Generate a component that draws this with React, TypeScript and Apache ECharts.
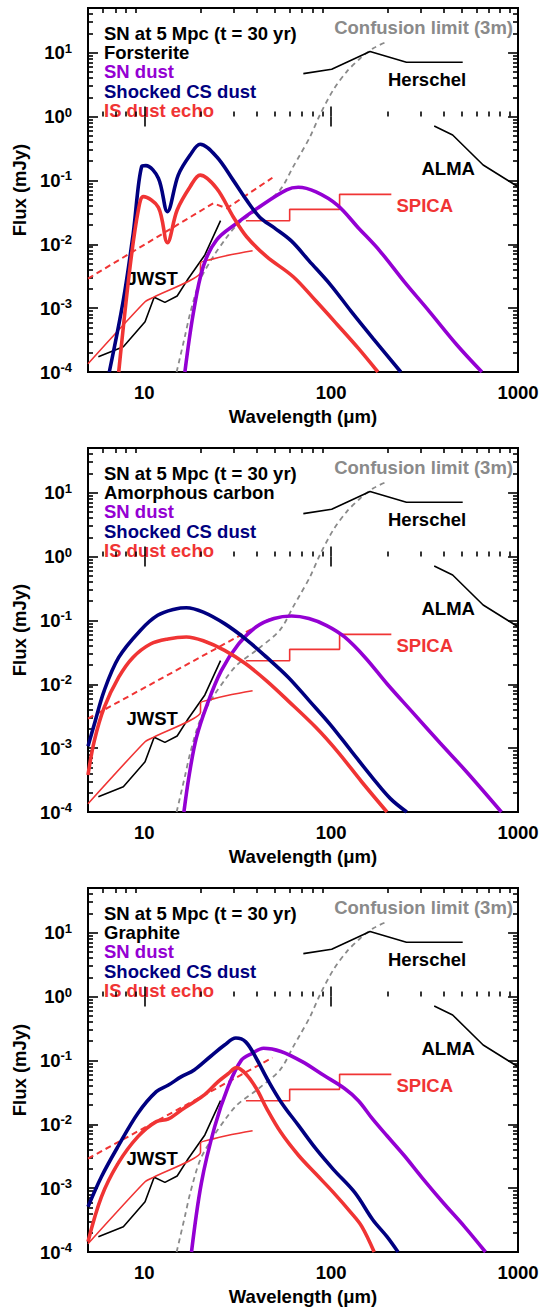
import React, { useEffect, useRef } from 'react';
import * as echarts from 'echarts';

type Pt = [number, number];

const X_MIN = 5;
const X_MAX = 1000;
const Y_MIN = 1e-4;
const Y_MAX = 50;

const FONT = '"Liberation Sans", Arial, Helvetica, sans-serif';
const NAVY = '#000080';
const PURPLE = '#9400d3';
const RED = '#f03434';
const GREY = '#8a8a8a';

// Detector sensitivities / confusion limit, shared by all three panels (mJy vs micron)
const confusionLimit: Pt[] = [
  [14.9, 1e-4], [16.5, 3.6e-4], [17.6, 8.3e-4], [19.9, 2.75e-3], [23.4, 6.4e-3],
  [27, 1.17e-2], [31.3, 2.0e-2], [40, 3.44e-2], [53.3, 7.1e-2], [62.7, 0.164],
  [68.1, 0.25], [77.1, 0.48], [87.1, 1.06], [102.6, 2.6], [121, 5.0],
  [142.7, 8.1], [168, 11.7], [198, 14.8],
];
const herschel: Pt[] = [[71, 4.7], [100.7, 5.5], [161.5, 10.4], [253, 7.06], [506, 7.06]];
const alma: Pt[] = [[356, 0.71], [447, 0.514], [651, 0.174], [1000, 0.0796]];
const jwst: Pt[] = [
  [5.68, 1.74e-4], [7.73, 2.49e-4], [10.1, 6.1e-4], [11.3, 1.48e-3], [12.9, 1.23e-3],
  [15.0, 1.55e-3], [17.0, 2.75e-3], [21.1, 6.8e-3], [25.6, 2.34e-2],
];
const spicaMir: Pt[] = [
  [5, 1.35e-4], [10.1, 1.26e-3], [11.3, 1.5e-3], [20, 3.6e-3], [20, 5.1e-3],
  [22.6, 5.75e-3], [29.4, 6.9e-3], [38, 7.9e-3],
];
const spicaFir: Pt[] = [
  [35, 0.0233], [60, 0.0233], [60, 0.0352], [111, 0.0352], [111, 0.0605], [210, 0.0605],
];

// Forsterite
const snForsterite: Pt[] = [
  [16.5, 1e-4], [18.3, 8.3e-4], [20.7, 4.5e-3], [24.4, 1.17e-2], [31.3, 2.14e-2],
  [41.6, 3.9e-2], [57.8, 7.1e-2], [66.7, 7.8e-2], [83, 6.6e-2], [108, 4.1e-2],
  [140, 1.8e-2], [182, 7.9e-3], [246, 2.6e-3], [335, 8.9e-4], [474, 2.6e-4], [641, 1e-4],
];
const csForsterite: Pt[] = [
  [6.5, 1e-4], [7.73, 1.34e-3], [8.73, 1.48e-2], [9.68, 0.164], [10.2, 0.17],
  [11.9, 0.108], [13.3, 0.0324], [15.2, 0.121], [17.6, 0.249], [19.9, 0.367],
  [24.4, 0.235], [29.9, 0.101], [35.3, 0.049], [41.6, 0.0263], [49.5, 0.0182],
  [61.4, 0.0112], [76.2, 5.5e-3], [99, 2.34e-3], [128, 8.9e-4], [167, 3.4e-4], [236, 1e-4],
];
const echoForsterite: Pt[] = [
  [7.3, 1e-4], [8.4, 4.5e-3], [9.3, 0.0344], [9.9, 0.0556], [11.9, 0.0379],
  [13.3, 0.0106], [15.0, 0.0344], [17.6, 0.0796], [19.9, 0.121], [24.4, 0.0752],
  [29.9, 0.027], [35.3, 0.0131], [45.2, 6.4e-3], [62.7, 3.1e-3], [83, 1.29e-3],
  [108, 5.5e-4], [140, 2.34e-4], [178, 1e-4],
];
const dashForsterite: Pt[] = [[5, 2.9e-3], [23.4, 0.0438], [27.6, 0.0365], [48.5, 0.11]];

// Amorphous carbon
const snCarbon: Pt[] = [
  [16.3, 1e-4], [17.4, 3.8e-4], [19, 1.45e-3], [21.7, 4.8e-3], [25.8, 0.0162],
  [32, 0.0427], [39.8, 0.0794], [49.5, 0.107], [61.4, 0.117], [76, 0.107],
  [94.7, 0.083], [118, 0.055], [152, 0.0263], [199, 0.0102], [270, 3.76e-3],
  [383, 1.2e-3], [530, 4.27e-4], [815, 1e-4],
];
const csCarbon: Pt[] = [
  [5, 1.07e-3], [5.4, 2.34e-3], [6.1, 7.9e-3], [7.3, 0.0263], [9.5, 0.069],
  [11.8, 0.12], [14.7, 0.151], [16.8, 0.158], [20.7, 0.135], [26.9, 0.089],
  [34.9, 0.051], [45.3, 0.0263], [58.9, 0.0129], [76.5, 5.5e-3], [99, 2.34e-3],
  [128.5, 8.9e-4], [167, 3.4e-4], [207.6, 1.62e-4], [254, 1e-4],
];
const echoCarbon: Pt[] = [
  [5, 3.8e-4], [5.4, 1.29e-3], [6.1, 4.3e-3], [7.3, 0.0129], [8.7, 0.0263],
  [10.8, 0.0427], [13.4, 0.0513], [16.8, 0.055], [20.7, 0.0479], [26.9, 0.0339],
  [34.9, 0.0209], [45.3, 0.0112], [58.9, 5.5e-3], [83, 2.1e-3], [108, 8.9e-4],
  [146, 2.95e-4], [199, 1e-4],
];
const dashCarbon: Pt[] = [[5, 2.9e-3], [48.5, 0.11]];

// Graphite
const snGraphite: Pt[] = [
  [17.9, 1e-4], [20.2, 1.19e-3], [23.8, 9.1e-3], [28.1, 0.0387], [33.1, 0.101],
  [37.8, 0.129], [43.5, 0.155], [53.9, 0.138], [70, 0.0955], [90.8, 0.0589],
  [118, 0.0363], [140, 0.0234], [167, 0.012], [199, 6.6e-3], [246, 3.24e-3],
  [307, 1.45e-3], [398, 5.9e-4], [517, 2.5e-4], [670, 1e-4],
];
const csGraphite: Pt[] = [
  [5, 5.1e-4], [5.9, 1.51e-3], [7.24, 4.5e-3], [9.25, 0.0149], [11.6, 0.0324],
  [13.4, 0.0407], [15.8, 0.0556], [18.5, 0.0708], [22.6, 0.115], [26.9, 0.174],
  [30.9, 0.224], [34.9, 0.195], [39.8, 0.107], [45.3, 0.0525], [53.9, 0.0224],
  [67, 9.5e-3], [83, 4.1e-3], [103, 1.95e-3], [134, 8.5e-4], [167, 3.2e-4],
  [199, 1.74e-4], [228, 1e-4],
];
const echoGraphite: Pt[] = [
  [5, 1.45e-4], [5.9, 7.3e-4], [7.24, 2.44e-3], [9.25, 6.4e-3], [11.6, 0.011],
  [13.4, 0.012], [15.8, 0.0167], [20.7, 0.028], [24.7, 0.0457], [28.1, 0.0617],
  [31.2, 0.077], [34.9, 0.0617], [39.8, 0.0363], [45.3, 0.0174], [53.9, 7.4e-3],
  [67, 3.24e-3], [83, 1.66e-3], [103, 8.5e-4], [128, 4.1e-4], [146, 2.5e-4], [170, 1e-4],
];
const dashGraphite: Pt[] = [[5, 2.9e-3], [48.5, 0.11]];

const panels = [
  { material: 'Forsterite', sn: snForsterite, cs: csForsterite, echo: echoForsterite, dash: dashForsterite },
  { material: 'Amorphous carbon', sn: snCarbon, cs: csCarbon, echo: echoCarbon, dash: dashCarbon },
  { material: 'Graphite', sn: snGraphite, cs: csGraphite, echo: echoGraphite, dash: dashGraphite },
];

// Tick positions (major decades and 2..9 minors)
const xMajor = [10, 100, 1000];
const xMinor = [6, 7, 8, 9, 20, 30, 40, 50, 60, 70, 80, 90, 200, 300, 400, 500, 600, 700, 800, 900];
const yMajor = [1e-4, 1e-3, 1e-2, 1e-1, 1, 10];
const yMinor: number[] = [];
for (let e = -4; e <= 1; e++) {
  for (let k = 2; k <= 9; k++) {
    const v = k * Math.pow(10, e);
    if (v <= Y_MAX) yMinor.push(v);
  }
}

const GRID_LEFT = 88;
const GRID_WIDTH = 430;
const GRID_HEIGHT = 364;
const GRID_TOPS = [8, 448, 888];
const MAJOR_LEN = 10;
const MINOR_LEN = 5;

const isDecade = (v: number) => {
  const l = Math.log10(v);
  return Math.abs(l - Math.round(l)) < 1e-6;
};

// Tick-carrier axis: a linear axis spanning log10 of the data range, whose
// only visible part is a set of inward ticks at log10 of the given values.
function tickAxis(dim: 'x' | 'y', gridIndex: number, position: string, values: number[], len: number) {
  const lo = dim === 'x' ? X_MIN : Y_MIN;
  const hi = dim === 'x' ? X_MAX : Y_MAX;
  return {
    type: 'value',
    gridIndex,
    position,
    min: Math.log10(lo),
    max: Math.log10(hi),
    silent: true,
    axisLine: { show: false },
    axisLabel: { show: false },
    splitLine: { show: false },
    axisTick: {
      show: true,
      inside: true,
      length: len,
      customValues: values.map((v) => Math.log10(v)),
      lineStyle: { color: '#000', width: 1.6 },
    },
  };
}

function buildOption(withTickAxes: boolean) {
  const grids: any[] = [];
  const xAxes: any[] = [];
  const yAxes: any[] = [];
  const extraX: any[] = [];
  const extraY: any[] = [];
  const series: any[] = [];
  const graphics: any[] = [];

  const labelStyle = { fontSize: 18.5, fontWeight: 'bold', fontFamily: FONT, color: '#000' };

  const text = (t: string, x: number, y: number, fill: string, align = 'left') => ({
    type: 'text',
    x,
    y,
    style: {
      text: t,
      fill,
      fontSize: 18.5,
      fontWeight: 'bold',
      fontFamily: FONT,
      align,
      verticalAlign: 'middle',
    },
  });

  panels.forEach((p, i) => {
    const top = GRID_TOPS[i];
    grids.push({
      left: GRID_LEFT,
      top,
      width: GRID_WIDTH,
      height: GRID_HEIGHT,
      show: true,
      borderColor: '#000',
      borderWidth: 2,
      backgroundColor: 'transparent',
    });
    xAxes.push({
      type: 'log',
      gridIndex: i,
      position: 'bottom',
      min: X_MIN,
      max: X_MAX,
      name: 'Wavelength (μm)',
      nameLocation: 'middle',
      nameGap: 35,
      nameTextStyle: { ...labelStyle },
      axisLine: { show: false },
      axisTick: { show: false },
      splitLine: { show: false },
      axisLabel: {
        ...labelStyle,
        margin: 11,
        showMinLabel: false,
        formatter: (v: number) => (isDecade(v) ? String(Math.round(v)) : ''),
      },
    });
    yAxes.push({
      type: 'log',
      gridIndex: i,
      position: 'left',
      min: Y_MIN,
      max: Y_MAX,
      name: 'Flux (mJy)',
      nameLocation: 'middle',
      nameGap: 48,
      nameTextStyle: { ...labelStyle },
      axisLine: { show: false },
      axisTick: { show: false },
      splitLine: { show: false },
      axisLabel: {
        margin: 16,
        color: '#000',
        fontFamily: FONT,
        fontWeight: 'bold',
        formatter: (v: number) => {
          if (!isDecade(v)) return '';
          return `{b|10}{e|${Math.round(Math.log10(v))}}`;
        },
        rich: {
          b: { fontSize: 18.5, fontWeight: 'bold', fontFamily: FONT, color: '#000' },
          e: { fontSize: 13, fontWeight: 'bold', fontFamily: FONT, color: '#000', padding: [0, 0, 9, 0] },
        },
      },
    });

    if (withTickAxes) {
      extraX.push(tickAxis('x', i, 'bottom', xMajor, MAJOR_LEN));
      extraX.push(tickAxis('x', i, 'bottom', xMinor, MINOR_LEN));
      extraX.push(tickAxis('x', i, 'top', xMajor, MAJOR_LEN));
      extraX.push(tickAxis('x', i, 'top', xMinor, MINOR_LEN));
      extraY.push(tickAxis('y', i, 'left', yMajor, MAJOR_LEN));
      extraY.push(tickAxis('y', i, 'left', yMinor, MINOR_LEN));
      extraY.push(tickAxis('y', i, 'right', yMajor, MAJOR_LEN));
      extraY.push(tickAxis('y', i, 'right', yMinor, MINOR_LEN));
    }

    const base = { xAxisIndex: i, yAxisIndex: i, showSymbol: false, z: 2 };

    series.push({ ...base, type: 'line', name: 'Confusion limit', data: confusionLimit, smooth: 0.3,
      lineStyle: { color: GREY, width: 1.8, type: [5, 4] } });
    series.push({ ...base, type: 'line', name: 'Herschel', data: herschel, lineStyle: { color: '#000', width: 1.6 } });
    series.push({ ...base, type: 'line', name: 'ALMA', data: alma, lineStyle: { color: '#000', width: 1.6 } });
    series.push({ ...base, type: 'line', name: 'JWST', data: jwst, lineStyle: { color: '#000', width: 1.6 } });
    series.push({ ...base, type: 'line', name: 'SPICA MIR', data: spicaMir, smooth: 0.2, lineStyle: { color: RED, width: 1.6 } });
    series.push({ ...base, type: 'line', name: 'SPICA', data: spicaFir, lineStyle: { color: RED, width: 1.6 } });
    series.push({ ...base, type: 'line', name: 'Echo dashed', data: p.dash, lineStyle: { color: RED, width: 2, type: [6, 4] } });
    series.push({ ...base, type: 'line', name: 'SN dust', data: p.sn, smooth: 0.35, z: 3,
      lineStyle: { color: PURPLE, width: 3.6 } });
    series.push({ ...base, type: 'line', name: 'Shocked CS dust', data: p.cs, smooth: 0.35, z: 3,
      lineStyle: { color: NAVY, width: 3.6 } });
    series.push({ ...base, type: 'line', name: 'IS dust echo', data: p.echo, smooth: 0.35, z: 3,
      lineStyle: { color: RED, width: 3.6 } });

    const lx = 104;
    const ly = top + 25;
    const dy = 19.4;
    graphics.push(text('SN at 5 Mpc (t = 30 yr)', lx, ly, '#000'));
    graphics.push(text(p.material, lx, ly + dy, '#000'));
    graphics.push(text('SN dust', lx, ly + 2 * dy, PURPLE));
    graphics.push(text('Shocked CS dust', lx, ly + 3 * dy, NAVY));
    graphics.push(text('IS dust echo', lx, ly + 4 * dy, RED));
    graphics.push(text('Confusion limit (3m)', 513, top + 19.5, GREY, 'right'));
    graphics.push(text('Herschel', 388, top + 71, '#000'));
    graphics.push(text('ALMA', 421.5, top + 160.5, '#000'));
    graphics.push(text('SPICA', 396.5, top + 197.5, RED));
    graphics.push(text('JWST', 126.5, top + 270, '#000'));
  });

  return {
    animation: false,
    backgroundColor: '#fff',
    grid: grids,
    xAxis: [...xAxes, ...extraX],
    yAxis: [...yAxes, ...extraY],
    series,
    graphic: graphics,
  };
}

export default function App() {
  const ref = useRef<HTMLDivElement>(null);

  useEffect(() => {
    const el = ref.current;
    if (!el) return;
    let chart = echarts.init(el, undefined, { renderer: 'svg' });
    try {
      chart.setOption(buildOption(true));
    } catch (err) {
      chart.dispose();
      chart = echarts.init(el, undefined, { renderer: 'svg' });
      chart.setOption(buildOption(false));
    }
    return () => chart.dispose();
  }, []);

  return (
    <div
      ref={ref}
      style={{ position: 'absolute', left: 0, top: 0, width: 553, height: 1307 }}
    />
  );
}
